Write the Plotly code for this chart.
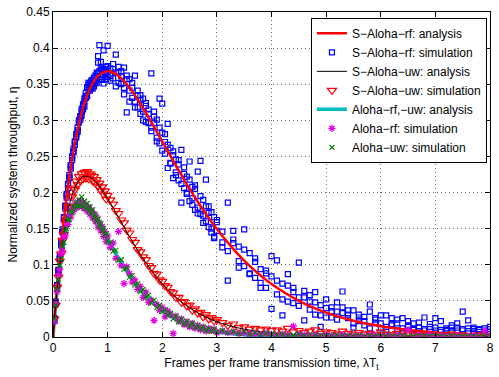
import plotly.graph_objects as go

# ---- analysis curves ----
ana_load = [0, 0.05, 0.1, 0.15, 0.2, 0.3, 0.4, 0.5, 0.6, 0.7, 0.8, 0.9, 1.0, 1.1, 1.2, 1.4, 1.6, 1.8,
            2.0, 2.2, 2.4, 2.6, 2.8, 3.0, 3.25, 3.5, 3.75, 4.0, 4.5, 5.0, 5.5, 6.0, 6.5, 7.0, 7.5, 8.0]
s_aloha_rf_ana = [0, .0476, .0905, .1291, .1637, .2222, .2681, .3033, .3293, .3476, .3595, .3659, .3679,
                  .3662, .3614, .3452, .3230, .2975, .2707, .2438, .2177, .1931, .1703, .1494, .1261,
                  .1057, .0882, .0733, .0500, .0337, .0225, .0149, .0098, .0064, .0041, .0027]
s_aloha_uw_ana = [0, .0460, .0848, .1171, .1438, .1829, .2067, .2191, .2229, .2205, .2137, .2038, .1920,
                  .1791, .1657, .1390, .1142, .0924, .0738, .0584, .0458, .0357, .0276, .0212, .0152,
                  .0109, .0077, .0054, .0027, .0013, .0006, .0003, .0001, .0001, 0, 0]
aloha_ana = [0, .0452, .0819, .1111, .1341, .1646, .1797, .1839, .1807, .1726, .1615, .1488, .1353,
             .1219, .1089, .0851, .0652, .0492, .0366, .0271, .0198, .0143, .0103, .0074, .0049,
             .0032, .0021, .0013, .0006, .0002, .0001, 0, 0, 0, 0, 0]

# ---- simulation points ----
sim_load = [0.025, 0.05, 0.075, 0.1, 0.125, 0.15, 0.175, 0.2, 0.225, 0.25,
            0.275, 0.3, 0.325, 0.35, 0.375, 0.4, 0.425, 0.45, 0.475, 0.5,
            0.525, 0.55, 0.575, 0.6, 0.625, 0.65, 0.675, 0.7, 0.725, 0.75,
            0.775, 0.8, 0.825, 0.85, 0.875, 0.9, 0.925, 0.95, 0.975, 1.0,
            1.05, 1.1, 1.15, 1.2, 1.25, 1.3, 1.35, 1.4, 1.45, 1.5,
            1.55, 1.6, 1.65, 1.7, 1.75, 1.8, 1.85, 1.9, 1.95, 2.0,
            2.05, 2.1, 2.15, 2.2, 2.25, 2.3, 2.35, 2.4, 2.45, 2.5,
            2.55, 2.6, 2.65, 2.7, 2.75, 2.8, 2.85, 2.9, 2.95, 3.0,
            3.1, 3.2, 3.3, 3.4, 3.5, 3.6, 3.7, 3.8, 3.9, 4.0,
            4.1, 4.2, 4.3, 4.4, 4.5, 4.6, 4.7, 4.8, 4.9, 5.0,
            5.1, 5.2, 5.3, 5.4, 5.5, 5.6, 5.7, 5.8, 5.9, 6.0,
            6.1, 6.2, 6.3, 6.4, 6.5, 6.6, 6.7, 6.8, 6.9, 7.0,
            7.1, 7.2, 7.3, 7.4, 7.5, 7.6, 7.7, 7.8, 7.9, 8.0]

s_aloha_rf_sim_a = [.026, .049, .072, .089, .112, .131, .146, .166, .182, .193,
                    .212, .224, .233, .250, .261, .266, .281, .290, .298, .301,
                    .316, .322, .330, .338, .345, .349, .352, .348, .356, .347,
                    .362, .358, .380, .368, .372, .360, .397, .371, .366, .403,
                    .372, .358, .391, .366, .350, .373, .362, .341, .352, .362,
                    .318, .335, .312, .320, .296, .365, .305, .276, .330, .283,
                    .270, .295, .240, .252, .228, .245, .259, .206, .222, .243,
                    .192, .210, .179, .244, .168, .218, .181, .150, .166, .147,
                    .124, .186, .147, .105, .149, .088, .109, .075, .092, .112,
                    .106, .052, .087, .047, .103, .064, .038, .062, .030, .052,
                    .041, .035, .063, .026, .037, .022, .028, .045, .020, .030,
                    .014, .026, .019, .012, .022, .010, .013, .027, .011, .009,
                    .022, .012, .008, .013, .009, .023, .011, .007, .012, .014]
s_aloha_rf_sim_b = [.022, .046, .068, .093, .108, .127, .149, .162, .178, .198,
                    .206, .220, .238, .245, .256, .271, .276, .284, .300, .306,
                    .307, .320, .319, .334, .346, .352, .341, .355, .344, .359,
                    .351, .366, .389, .404, .381, .356, .371, .362, .357, .375,
                    .362, .378, .347, .374, .368, .345, .311, .357, .331, .326,
                    .341, .309, .330, .298, .315, .285, .296, .301, .268, .323,
                    .254, .234, .262, .220, .246, .217, .186, .235, .200, .188,
                    .208, .176, .229, .170, .190, .160, .172, .145, .139, .159,
                    .146, .078, .130, .125, .098, .116, .082, .094, .068, .039,
                    .078, .030, .071, .062, .055, .023, .058, .048, .014, .040,
                    .027, .048, .033, .037, .019, .031, .016, .035, .026, .012,
                    .030, .018, .009, .026, .014, .019, .008, .011, .018, .013,
                    .007, .010, .016, .009, .035, .012, .008, .011, .009, .007]
s_aloha_rf_sim_c = [.025, .047, .071, .092, .109, .130, .145, .165, .181, .196,
                    .210, .221, .236, .248, .257, .270, .279, .286, .297, .304,
                    .312, .315, .326, .331, .333, .342, .346, .345, .353, .350,
                    .355, .352, .365, .357, .360, .370, .351, .366, .374, .360,
                    .355, .371, .366, .352, .361, .336, .357, .326, .345, .318,
                    .335, .328, .300, .324, .309, .290, .312, .271, .290, .258,
                    .281, .266, .241, .257, .224, .239, .212, .226, .198, .218,
                    .183, .205, .171, .195, .158, .181, .152, .173, .137, .162,
                    .131, .119, .135, .096, .121, .087, .104, .068, .088, .084,
                    .059, .074, .049, .068, .043, .055, .049, .031, .044, .027,
                    .036, .024, .041, .031, .013, .027, .022, .012, .024, .019,
                    .010, .016, .024, .008, .016, .011, .020, .009, .014, .026,
                    .010, .008, .013, .019, .011, .008, .013, .010, .006, .011]
s_aloha_uw_sim = [.025, .044, .069, .083, .105, .115, .134, .142, .158, .163,
                  .179, .181, .195, .194, .206, .204, .216, .211, .222, .216,
                  .226, .219, .228, .220, .229, .219, .226, .224, .216, .222,
                  .213, .218, .209, .213, .203, .208, .198, .202, .191, .196,
                  .190, .184, .175, .171, .162, .158, .148, .144, .135, .131,
                  .121, .118, .111, .107, .099, .096, .088, .087, .079, .077,
                  .071, .069, .063, .061, .055, .055, .048, .049, .043, .044,
                  .037, .039, .033, .034, .028, .031, .025, .027, .022, .024,
                  .020, .016, .018, .013, .014, .011, .012, .010, .011, .009,
                  .010, .008, .012, .007, .009, .006, .008, .010, .005, .007,
                  .006, .004, .008, .005, .003, .006, .004, .005, .003, .007,
                  .004, .003, .005, .002, .004, .003, .002, .004, .003, .002,
                  .003, .001, .004, .002, .003, .002, .001, .003, .002, .001]
aloha_rf_sim = [.022, .047, .063, .085, .094, .115, .120, .138, .141, .156,
                .156, .169, .166, .178, .174, .184, .179, .187, .181, .189,
                .180, .186, .178, .183, .174, .180, .170, .176, .165, .171,
                .160, .166, .152, .159, .147, .153, .139, .146, .132, .140,
                .124, .130, .109, .146, .099, .074, .097, .088, .076, .079,
                .066, .070, .055, .062, .048, .051, .023, .045, .037, .041,
                .028, .036, .031, .005, .029, .022, .025, .017, .021, .014,
                .019, .012, .016, .010, .014, .008, .012, .009, .011, .006,
                .008, .006, .007, .005, .006, .004, .005, .003, .005, .004,
                .002, .004, .003, .015, .004, .003, .002, .003, .001, .003,
                .002, .001, .003, .002, .001, .002, .001, .003, .002, .001,
                .002, .001, .002, .001, .010, .001, .002, .001, .003, .001,
                .002, .001, .001, .002, .001, .001, .002, .001, .008, .002]
aloha_uw_sim = [.025, .044, .066, .080, .099, .108, .126, .131, .147, .150,
                .162, .163, .174, .172, .181, .178, .186, .181, .190, .182,
                .194, .181, .188, .178, .185, .175, .180, .171, .176, .165,
                .169, .160, .163, .153, .157, .147, .150, .141, .143, .133,
                .131, .119, .120, .106, .107, .094, .095, .083, .085, .072,
                .074, .063, .066, .055, .058, .047, .051, .041, .044, .035,
                .038, .030, .033, .025, .029, .021, .025, .018, .022, .015,
                .019, .013, .016, .011, .014, .009, .012, .008, .011, .007,
                .009, .006, .008, .005, .007, .004, .006, .003, .005, .004,
                .003, .004, .002, .003, .004, .002, .003, .002, .003, .001,
                .002, .003, .001, .002, .001, .002, .001, .002, .001, .001,
                .002, .001, .001, .002, .001, .001, .001, .002, .001, .001,
                .001, .001, .002, .001, .001, .001, .001, .001, .001, .001]

x_ticks = [0, 1, 2, 3, 4, 5, 6, 7, 8]
y_ticks = [0, 0.05, 0.1, 0.15, 0.2, 0.25, 0.3, 0.35, 0.4, 0.45]

FONT = "Liberation Sans, Arial, sans-serif"
RED = "rgb(255,0,0)"
BLUE = "rgb(0,0,255)"
CYAN = "rgb(0,191,191)"
MAG = "rgb(225,0,225)"
GREEN = "rgb(0,128,0)"

fig = go.Figure()

fig.add_trace(go.Scatter(x=ana_load, y=aloha_ana, mode="lines", name="Aloha−rf,−uw: analysis",
                         line=dict(color=CYAN, width=3.5, shape="spline"), legendrank=5))
blue_marker = dict(symbol="square-open", size=5, color=BLUE, line=dict(width=1.2))
fig.add_trace(go.Scatter(x=sim_load, y=s_aloha_rf_sim_a, mode="markers", name="S−Aloha−rf: simulation",
                         marker=blue_marker, legendrank=2))
fig.add_trace(go.Scatter(x=sim_load, y=s_aloha_rf_sim_b, mode="markers", name="S−Aloha−rf: simulation",
                         marker=blue_marker, showlegend=False))
fig.add_trace(go.Scatter(x=sim_load, y=s_aloha_rf_sim_c, mode="markers", name="S−Aloha−rf: simulation",
                         marker=blue_marker, showlegend=False))
fig.add_trace(go.Scatter(x=ana_load, y=s_aloha_rf_ana, mode="lines", name="S−Aloha−rf: analysis",
                         line=dict(color=RED, width=2.5, shape="spline"), legendrank=1))
fig.add_trace(go.Scatter(x=sim_load, y=s_aloha_uw_sim, mode="markers", name="S−Aloha−uw: simulation",
                         marker=dict(symbol="triangle-down-open", size=8, color=RED, line=dict(width=1.2)),
                         legendrank=4))
fig.add_trace(go.Scatter(x=ana_load, y=s_aloha_uw_ana, mode="lines", name="S−Aloha−uw: analysis",
                         line=dict(color="black", width=1, shape="spline"), legendrank=3))
fig.add_trace(go.Scatter(x=sim_load, y=aloha_rf_sim, mode="markers", name="Aloha−rf: simulation",
                         marker=dict(symbol="asterisk-open", size=6, color=MAG, line=dict(width=1.3, color=MAG)),
                         legendrank=6))
fig.add_trace(go.Scatter(x=sim_load, y=aloha_uw_sim, mode="markers", name="Aloha−uw: simulation",
                         marker=dict(symbol="x-thin-open", size=5, color=GREEN, line=dict(width=1.2, color=GREEN)),
                         legendrank=7))

axis_common = dict(showline=True, linecolor="black", linewidth=1, mirror="ticks",
                   ticks="inside", ticklen=5, tickcolor="black",
                   showgrid=True, gridcolor="rgb(110,110,110)", griddash="1px,3px", gridwidth=1,
                   zeroline=False, tickfont=dict(family=FONT, size=12, color="black"))

fig.update_layout(
    width=499, height=377,
    margin=dict(l=53, r=5, t=9, b=40),
    paper_bgcolor="white", plot_bgcolor="white",
    font=dict(family=FONT, size=12, color="black"),
    showlegend=True,
    legend=dict(x=0.993, y=0.982, xanchor="right", yanchor="top",
                bgcolor="white", bordercolor="black", borderwidth=1,
                font=dict(family=FONT, size=12, color="black"),
                tracegroupgap=0),
    xaxis=dict(range=[0, 8], tickvals=x_ticks,
               title=dict(text="Frames per frame transmission time, λT<sub>t</sub>",
                          font=dict(family=FONT, size=12), standoff=4),
               **axis_common),
    yaxis=dict(range=[0, 0.45], tickvals=y_ticks, ticktext=[f"{v:g}" for v in y_ticks],
               title=dict(text="Normalized system throughput, η",
                          font=dict(family=FONT, size=12), standoff=6),
               **axis_common),
)

fig.write_html("out.html")
